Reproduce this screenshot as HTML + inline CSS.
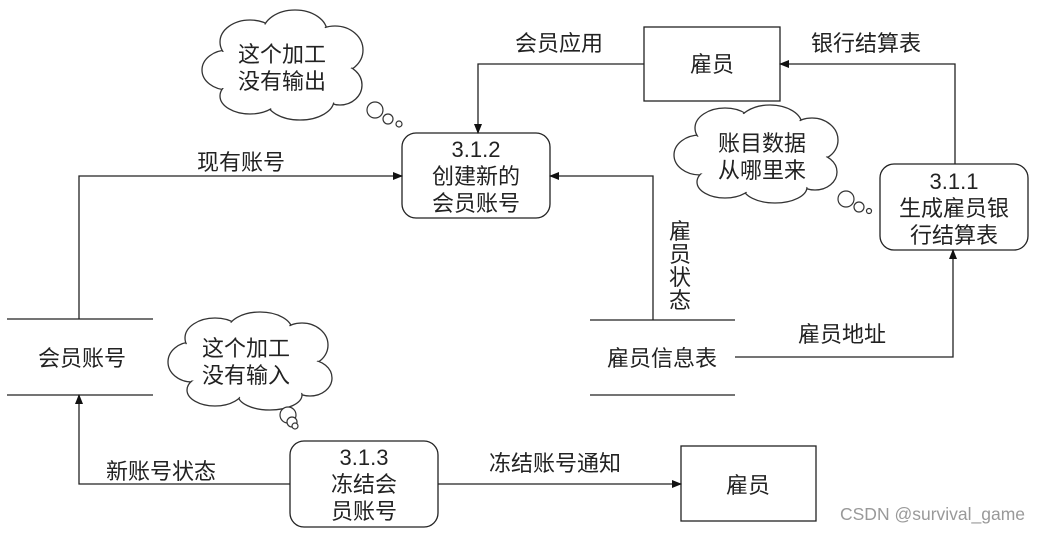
<!DOCTYPE html>
<html><head><meta charset="utf-8"><style>
html,body{margin:0;padding:0;background:#fff;}
svg{display:block;}
text{font-family:"Liberation Sans","Noto Sans CJK SC",sans-serif;font-size:22px;fill:#222;}
</style></head><body>
<svg width="1043" height="533" viewBox="0 0 1043 533" xmlns="http://www.w3.org/2000/svg">
<defs>
<marker id="a" markerWidth="10" markerHeight="8" refX="9" refY="4" orient="auto" markerUnits="userSpaceOnUse">
<path d="M0,0 L10,4 L0,8 z" fill="#111"/></marker>
</defs>
<g fill="none" stroke="#222" stroke-width="1.3">
<rect x="644" y="27" width="136" height="74"/>
<rect x="681" y="446" width="135" height="75"/>
<rect x="402" y="133" width="148" height="85" rx="14"/>
<rect x="880" y="164" width="148" height="86" rx="14"/>
<rect x="290" y="441" width="148" height="86" rx="14"/>
<line x1="7" y1="319" x2="153" y2="319"/>
<line x1="7" y1="395" x2="153" y2="395"/>
<line x1="590" y1="320" x2="735" y2="320"/>
<line x1="590" y1="395" x2="735" y2="395"/>
<polyline points="644,64 478,64 478,133" marker-end="url(#a)"/>
<polyline points="955,164 955,64 780,64" marker-end="url(#a)"/>
<polyline points="79,319 79,176 402,176" marker-end="url(#a)"/>
<polyline points="653,320 653,176 550,176" marker-end="url(#a)"/>
<polyline points="735,357 953,357 953,250" marker-end="url(#a)"/>
<polyline points="290,484 79,484 79,395" marker-end="url(#a)"/>
<line x1="438" y1="484" x2="681" y2="484" marker-end="url(#a)"/>
</g>
<g stroke="#333" stroke-width="1.3" fill="#fff">
<ellipse cx="228" cy="70" rx="26" ry="20"/><ellipse cx="250" cy="42" rx="30" ry="22"/><ellipse cx="295" cy="32" rx="32" ry="22"/>
<ellipse cx="335" cy="50" rx="28" ry="24"/><ellipse cx="340" cy="85" rx="22" ry="20"/><ellipse cx="300" cy="100" rx="34" ry="20"/>
<ellipse cx="250" cy="96" rx="30" ry="18"/>
</g>
<g fill="#fff">
<ellipse cx="228" cy="70" rx="24.5" ry="18.5"/><ellipse cx="250" cy="42" rx="28.5" ry="20.5"/><ellipse cx="295" cy="32" rx="30.5" ry="20.5"/>
<ellipse cx="335" cy="50" rx="26.5" ry="22.5"/><ellipse cx="340" cy="85" rx="20.5" ry="18.5"/><ellipse cx="300" cy="100" rx="32.5" ry="18.5"/>
<ellipse cx="250" cy="96" rx="28.5" ry="16.5"/><ellipse cx="290" cy="68" rx="55" ry="35"/>
</g>
<g stroke="#333" stroke-width="1.3" fill="#fff">
<ellipse cx="700" cy="155" rx="26" ry="20"/><ellipse cx="725" cy="128" rx="30" ry="20"/><ellipse cx="770" cy="125" rx="32" ry="20"/>
<ellipse cx="812" cy="140" rx="26" ry="22"/><ellipse cx="815" cy="172" rx="22" ry="18"/><ellipse cx="775" cy="187" rx="32" ry="16"/>
<ellipse cx="725" cy="182" rx="28" ry="16"/>
</g>
<g fill="#fff">
<ellipse cx="700" cy="155" rx="24.5" ry="18.5"/><ellipse cx="725" cy="128" rx="28.5" ry="18.5"/><ellipse cx="770" cy="125" rx="30.5" ry="18.5"/>
<ellipse cx="812" cy="140" rx="24.5" ry="20.5"/><ellipse cx="815" cy="172" rx="20.5" ry="16.5"/><ellipse cx="775" cy="187" rx="30.5" ry="14.5"/>
<ellipse cx="725" cy="182" rx="26.5" ry="14.5"/><ellipse cx="765" cy="157" rx="55" ry="30"/>
</g>
<g stroke="#333" stroke-width="1.3" fill="#fff">
<ellipse cx="192" cy="362" rx="24" ry="20"/><ellipse cx="215" cy="338" rx="30" ry="20"/><ellipse cx="260" cy="330" rx="32" ry="18"/>
<ellipse cx="302" cy="345" rx="26" ry="22"/><ellipse cx="310" cy="378" rx="22" ry="18"/><ellipse cx="270" cy="395" rx="32" ry="15"/>
<ellipse cx="215" cy="390" rx="28" ry="16"/>
</g>
<g fill="#fff">
<ellipse cx="192" cy="362" rx="22.5" ry="18.5"/><ellipse cx="215" cy="338" rx="28.5" ry="18.5"/><ellipse cx="260" cy="330" rx="30.5" ry="16.5"/>
<ellipse cx="302" cy="345" rx="24.5" ry="20.5"/><ellipse cx="310" cy="378" rx="20.5" ry="16.5"/><ellipse cx="270" cy="395" rx="30.5" ry="13.5"/>
<ellipse cx="215" cy="390" rx="26.5" ry="14.5"/><ellipse cx="255" cy="363" rx="55" ry="30"/>
</g>
<g stroke="#333" stroke-width="1.2" fill="#fff">
<circle cx="375" cy="110" r="8"/><circle cx="388" cy="119" r="5"/><circle cx="399" cy="124" r="3"/>
<circle cx="846" cy="199" r="8"/><circle cx="859" cy="207" r="5"/><circle cx="869" cy="211" r="2.5"/>
<circle cx="288" cy="415" r="8"/><circle cx="292" cy="422" r="5"/><circle cx="295" cy="426" r="3"/>
</g>
<g text-anchor="middle">
<text x="712" y="72">雇员</text>
<text x="748" y="493">雇员</text>
<text x="476" y="157">3.1.2</text><text x="476" y="184">创建新的</text><text x="476" y="211">会员账号</text>
<text x="954" y="189">3.1.1</text><text x="954" y="216">生成雇员银</text><text x="954" y="243">行结算表</text>
<text x="364" y="465">3.1.3</text><text x="364" y="492">冻结会</text><text x="364" y="519">员账号</text>
<text x="82" y="366">会员账号</text>
<text x="662" y="366">雇员信息表</text>
<text x="559" y="51">会员应用</text>
<text x="866" y="51">银行结算表</text>
<text x="241" y="170">现有账号</text>
<text x="842" y="342">雇员地址</text>
<text x="161" y="479">新账号状态</text>
<text x="555" y="471">冻结账号通知</text>
<text x="282" y="62">这个加工</text><text x="282" y="89">没有输出</text>
<text x="762" y="151">账目数据</text><text x="762" y="178">从哪里来</text>
<text x="246" y="356">这个加工</text><text x="246" y="383">没有输入</text>
<text x="680" y="239">雇</text><text x="680" y="262">员</text><text x="680" y="285">状</text><text x="680" y="308">态</text>
</g>
<text x="840" y="520" style="font-size:17.5px;fill:#999">CSDN @survival_game</text>
</svg>
</body></html>
